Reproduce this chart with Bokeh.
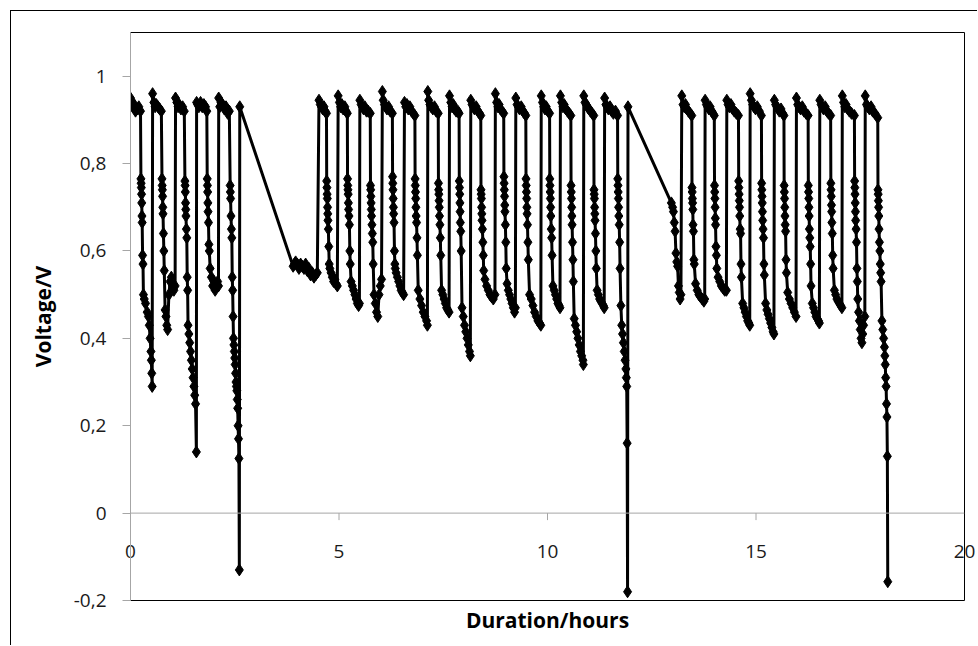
from bokeh.plotting import figure
from bokeh.models import Range1d, LinearAxis, FixedTicker, CustomJSTickFormatter, Span, ColumnDataSource
from bokeh.embed import file_html
from bokeh.resources import INLINE

# ---------------- data (hours, volts) ----------------
# first block of cycles
sec1_t = [
    0.00, 0.03, 0.06, 0.09, 0.12, 0.16, 0.20, 0.24, 0.25, 0.255, 0.26, 0.265, 0.27, 0.275, 0.28, 0.29, 0.30, 0.31,
    0.33, 0.36, 0.40, 0.43, 0.45, 0.47, 0.49, 0.50, 0.51, 0.52,
    0.53, 0.56, 0.59, 0.62, 0.66, 0.70, 0.74, 0.755, 0.76, 0.765, 0.77, 0.775, 0.78, 0.79, 0.80, 0.81,
    0.83, 0.85, 0.87, 0.89, 0.92, 0.95, 0.98, 1.01, 1.04, 1.07,
    1.08, 1.11, 1.14, 1.17, 1.21, 1.25, 1.29, 1.305, 1.31, 1.315, 1.32, 1.325, 1.33, 1.34, 1.35, 1.36,
    1.37, 1.38, 1.40, 1.42, 1.44, 1.46, 1.48, 1.50, 1.52, 1.54, 1.56, 1.58,
    1.585, 1.61, 1.64, 1.68, 1.72, 1.76, 1.80, 1.83, 1.84, 1.845, 1.85, 1.855, 1.86, 1.87, 1.88, 1.89,
    1.91, 1.94, 1.97, 2.00, 2.03, 2.06, 2.09, 2.11,
    2.115, 2.14, 2.17, 2.21, 2.25, 2.29, 2.33, 2.37, 2.39, 2.395, 2.40, 2.41, 2.42, 2.43, 2.44,
    2.45, 2.46, 2.47, 2.48, 2.49, 2.50, 2.51, 2.52, 2.53, 2.54, 2.55, 2.56, 2.57, 2.58, 2.59, 2.60, 2.61,
    2.62,
]
sec1_v = [
    0.95, 0.94, 0.93, 0.935, 0.92, 0.925, 0.93, 0.92, 0.765, 0.755, 0.745, 0.73, 0.71, 0.68, 0.665, 0.59, 0.57, 0.50,
    0.49, 0.48, 0.46, 0.45, 0.43, 0.40, 0.37, 0.35, 0.32, 0.29,
    0.96, 0.94, 0.93, 0.935, 0.93, 0.925, 0.92, 0.765, 0.75, 0.74, 0.725, 0.70, 0.685, 0.64, 0.60, 0.555,
    0.465, 0.45, 0.43, 0.42, 0.50, 0.53, 0.54, 0.52, 0.51, 0.52,
    0.95, 0.94, 0.93, 0.935, 0.925, 0.93, 0.92, 0.76, 0.75, 0.735, 0.71, 0.695, 0.68, 0.65, 0.63, 0.54,
    0.51, 0.43, 0.41, 0.39, 0.37, 0.35, 0.33, 0.31, 0.29, 0.27, 0.25, 0.14,
    0.94, 0.935, 0.93, 0.94, 0.93, 0.935, 0.93, 0.92, 0.765, 0.75, 0.735, 0.71, 0.69, 0.665, 0.615, 0.60,
    0.56, 0.54, 0.52, 0.53, 0.51, 0.52, 0.53, 0.52,
    0.95, 0.93, 0.94, 0.935, 0.925, 0.93, 0.915, 0.92, 0.75, 0.735, 0.72, 0.68, 0.65, 0.63, 0.54,
    0.51, 0.45, 0.40, 0.385, 0.37, 0.355, 0.34, 0.32, 0.30, 0.29, 0.28, 0.26, 0.24, 0.20, 0.17, 0.125, -0.13,
    0.93,
]
# rest period after first block
rest1_t = [3.90, 3.93, 3.96, 4.00, 4.04, 4.08, 4.12, 4.16, 4.20, 4.24, 4.28, 4.32, 4.36, 4.40, 4.44, 4.48]
rest1_v = [0.565, 0.57, 0.575, 0.57, 0.56, 0.57, 0.565, 0.56, 0.57, 0.555, 0.56, 0.545, 0.55, 0.54, 0.545, 0.55]

# second block of cycles
sec2_t = [
    4.52, 4.55, 4.58, 4.61, 4.64, 4.67, 4.70, 4.705, 4.71, 4.715, 4.72, 4.725, 4.73, 4.735, 4.745, 4.755, 4.765,
    4.78, 4.81, 4.84, 4.87, 4.90, 4.93, 4.96,
    4.98, 5.01, 5.04, 5.07, 5.10, 5.14, 5.17, 5.20, 5.205, 5.21, 5.215, 5.22, 5.225, 5.23, 5.24, 5.25, 5.26, 5.27,
    5.29, 5.32, 5.35, 5.38, 5.41, 5.44, 5.47, 5.49,
    5.50, 5.53, 5.56, 5.59, 5.62, 5.66, 5.70, 5.75, 5.755, 5.76, 5.765, 5.77, 5.775, 5.78, 5.79, 5.80, 5.81, 5.82,
    5.84, 5.87, 5.90, 5.93, 5.96, 5.99, 6.02,
    6.04, 6.06, 6.09, 6.12, 6.15, 6.19, 6.23, 6.28, 6.285, 6.29, 6.295, 6.30, 6.305, 6.31, 6.32, 6.33, 6.34, 6.35,
    6.37, 6.40, 6.43, 6.46, 6.49, 6.52, 6.55,
    6.57, 6.60, 6.63, 6.66, 6.70, 6.74, 6.78, 6.82, 6.825, 6.83, 6.835, 6.84, 6.845, 6.85, 6.86, 6.87, 6.88,
    6.90, 6.94, 6.98, 7.02, 7.06, 7.10, 7.12,
    7.13, 7.15, 7.18, 7.21, 7.25, 7.29, 7.33, 7.38, 7.385, 7.39, 7.395, 7.40, 7.405, 7.41, 7.42, 7.43, 7.44,
    7.46, 7.49, 7.52, 7.55, 7.58, 7.61, 7.64,
    7.65, 7.68, 7.71, 7.74, 7.77, 7.81, 7.85, 7.88, 7.885, 7.89, 7.895, 7.90, 7.905, 7.91, 7.92, 7.93,
    7.95, 7.98, 8.01, 8.04, 8.07, 8.10, 8.13, 8.15,
    8.16, 8.19, 8.22, 8.25, 8.29, 8.33, 8.37, 8.40, 8.405, 8.41, 8.415, 8.42, 8.425, 8.43, 8.44, 8.45, 8.46, 8.47,
    8.50, 8.54, 8.58, 8.62, 8.66, 8.70, 8.74,
    8.75, 8.78, 8.81, 8.84, 8.87, 8.91, 8.95, 8.955, 8.96, 8.965, 8.97, 8.975, 8.98, 8.99, 9.00, 9.01,
    9.03, 9.06, 9.09, 9.12, 9.15, 9.18, 9.21, 9.23,
    9.24, 9.27, 9.30, 9.33, 9.37, 9.41, 9.45, 9.48, 9.485, 9.49, 9.495, 9.50, 9.505, 9.51, 9.52, 9.53, 9.54,
    9.57, 9.61, 9.65, 9.69, 9.73, 9.77, 9.81, 9.84,
    9.85, 9.88, 9.91, 9.94, 9.97, 10.01, 10.05, 10.055, 10.06, 10.065, 10.07, 10.075, 10.08, 10.09, 10.10, 10.11,
    10.13, 10.16, 10.19, 10.22, 10.25, 10.28, 10.30,
    10.31, 10.34, 10.37, 10.40, 10.44, 10.48, 10.52, 10.56, 10.565, 10.57, 10.575, 10.58, 10.585, 10.59, 10.60, 10.61, 10.62,
    10.64, 10.67, 10.70, 10.73, 10.76, 10.79, 10.82, 10.85, 10.86,
    10.87, 10.90, 10.93, 10.96, 10.99, 11.03, 11.07, 11.11, 11.115, 11.12, 11.125, 11.13, 11.135, 11.14, 11.15, 11.16, 11.17,
    11.19, 11.22, 11.25, 11.28, 11.31, 11.34, 11.36,
    11.37, 11.40, 11.43, 11.46, 11.50, 11.54, 11.58, 11.63, 11.68, 11.685, 11.69, 11.695, 11.70, 11.705, 11.71, 11.72, 11.73, 11.74,
    11.76, 11.78, 11.80, 11.82, 11.84, 11.86, 11.88, 11.89, 11.90, 11.91, 11.92,
    11.93,
]
sec2_v = [
    0.945, 0.935, 0.93, 0.925, 0.93, 0.92, 0.915, 0.76, 0.745, 0.73, 0.72, 0.70, 0.685, 0.67, 0.65, 0.61, 0.57,
    0.56, 0.55, 0.54, 0.53, 0.535, 0.525, 0.52,
    0.955, 0.94, 0.93, 0.935, 0.925, 0.93, 0.92, 0.915, 0.765, 0.75, 0.74, 0.73, 0.71, 0.695, 0.68, 0.66, 0.60, 0.57,
    0.53, 0.52, 0.51, 0.50, 0.49, 0.48, 0.475, 0.48,
    0.945, 0.935, 0.93, 0.925, 0.93, 0.92, 0.92, 0.915, 0.75, 0.74, 0.725, 0.71, 0.695, 0.68, 0.66, 0.64, 0.62, 0.57,
    0.50, 0.48, 0.46, 0.45, 0.50, 0.52, 0.535,
    0.965, 0.945, 0.935, 0.93, 0.925, 0.93, 0.92, 0.915, 0.77, 0.755, 0.74, 0.72, 0.70, 0.685, 0.665, 0.60, 0.57, 0.56,
    0.55, 0.54, 0.53, 0.52, 0.51, 0.505, 0.50,
    0.94, 0.93, 0.935, 0.925, 0.93, 0.92, 0.915, 0.91, 0.765, 0.75, 0.735, 0.72, 0.70, 0.68, 0.665, 0.63, 0.59,
    0.51, 0.49, 0.475, 0.46, 0.45, 0.44, 0.43,
    0.965, 0.945, 0.935, 0.93, 0.925, 0.93, 0.92, 0.915, 0.755, 0.74, 0.73, 0.715, 0.70, 0.68, 0.66, 0.63, 0.59,
    0.51, 0.50, 0.49, 0.48, 0.47, 0.465, 0.46,
    0.955, 0.94, 0.93, 0.935, 0.925, 0.92, 0.92, 0.915, 0.76, 0.745, 0.73, 0.71, 0.69, 0.665, 0.645, 0.60,
    0.47, 0.45, 0.43, 0.415, 0.40, 0.385, 0.37, 0.36,
    0.945, 0.935, 0.93, 0.925, 0.93, 0.92, 0.915, 0.91, 0.74, 0.73, 0.72, 0.70, 0.685, 0.67, 0.65, 0.62, 0.59, 0.555,
    0.535, 0.52, 0.51, 0.50, 0.495, 0.49, 0.50,
    0.96, 0.94, 0.93, 0.935, 0.925, 0.92, 0.915, 0.77, 0.755, 0.74, 0.725, 0.705, 0.69, 0.66, 0.62, 0.56,
    0.525, 0.51, 0.50, 0.49, 0.48, 0.47, 0.46, 0.47,
    0.95, 0.935, 0.93, 0.925, 0.93, 0.92, 0.915, 0.91, 0.765, 0.75, 0.735, 0.72, 0.70, 0.685, 0.66, 0.62, 0.58,
    0.50, 0.49, 0.475, 0.46, 0.45, 0.44, 0.435, 0.43,
    0.955, 0.94, 0.93, 0.925, 0.93, 0.92, 0.915, 0.765, 0.75, 0.735, 0.72, 0.70, 0.68, 0.65, 0.63, 0.59,
    0.52, 0.51, 0.50, 0.49, 0.48, 0.475, 0.47,
    0.955, 0.94, 0.93, 0.935, 0.925, 0.92, 0.915, 0.91, 0.75, 0.735, 0.72, 0.70, 0.68, 0.66, 0.62, 0.58, 0.53,
    0.445, 0.43, 0.415, 0.40, 0.385, 0.37, 0.36, 0.35, 0.34,
    0.955, 0.94, 0.935, 0.93, 0.925, 0.92, 0.915, 0.91, 0.74, 0.73, 0.72, 0.70, 0.685, 0.67, 0.64, 0.60, 0.56,
    0.51, 0.50, 0.49, 0.485, 0.48, 0.475, 0.47,
    0.95, 0.935, 0.93, 0.925, 0.93, 0.92, 0.915, 0.92, 0.91, 0.765, 0.75, 0.735, 0.72, 0.70, 0.68, 0.66, 0.62, 0.56,
    0.475, 0.43, 0.41, 0.39, 0.37, 0.35, 0.33, 0.31, 0.29, 0.16, -0.18,
    0.93,
]
# rest period after second block
rest2_t = [12.97, 13.00, 13.02, 13.04, 13.06, 13.08, 13.10, 13.12, 13.14, 13.16, 13.18, 13.20]
rest2_v = [0.71, 0.70, 0.69, 0.665, 0.645, 0.595, 0.575, 0.565, 0.52, 0.505, 0.49, 0.50]

# third block of cycles
sec3_t = [
    13.22, 13.25, 13.28, 13.31, 13.34, 13.38, 13.42, 13.46, 13.465, 13.47, 13.475, 13.48, 13.485, 13.49, 13.50, 13.51, 13.52,
    13.55, 13.59, 13.63, 13.67, 13.71, 13.75, 13.77,
    13.78, 13.81, 13.84, 13.87, 13.90, 13.94, 13.97, 14.00, 14.005, 14.01, 14.015, 14.02, 14.025, 14.03, 14.04, 14.05, 14.06,
    14.09, 14.13, 14.17, 14.21, 14.25, 14.29,
    14.30, 14.33, 14.36, 14.40, 14.44, 14.48, 14.53, 14.58, 14.585, 14.59, 14.595, 14.60, 14.605, 14.61, 14.62, 14.63, 14.64, 14.65,
    14.68, 14.71, 14.74, 14.77, 14.80, 14.83, 14.85,
    14.86, 14.89, 14.92, 14.95, 14.99, 15.03, 15.08, 15.13, 15.135, 15.14, 15.145, 15.15, 15.155, 15.16, 15.17, 15.18, 15.19, 15.20,
    15.23, 15.26, 15.29, 15.32, 15.35, 15.38, 15.41, 15.43,
    15.44, 15.47, 15.50, 15.53, 15.56, 15.60, 15.64, 15.67, 15.675, 15.68, 15.685, 15.69, 15.695, 15.70, 15.71, 15.72, 15.73,
    15.76, 15.80, 15.84, 15.88, 15.92, 15.96,
    15.97, 16.00, 16.03, 16.07, 16.11, 16.15, 16.20, 16.25, 16.255, 16.26, 16.265, 16.27, 16.275, 16.28, 16.29, 16.30, 16.31, 16.32,
    16.35, 16.38, 16.41, 16.44, 16.47, 16.50, 16.52,
    16.53, 16.56, 16.59, 16.62, 16.66, 16.70, 16.74, 16.79, 16.795, 16.80, 16.805, 16.81, 16.815, 16.82, 16.83, 16.84, 16.85,
    16.88, 16.91, 16.94, 16.97, 17.00, 17.03, 17.06,
    17.07, 17.10, 17.13, 17.16, 17.20, 17.24, 17.29, 17.36, 17.365, 17.37, 17.375, 17.38, 17.385, 17.39, 17.40, 17.41, 17.42, 17.43, 17.44,
    17.46, 17.48, 17.50, 17.52, 17.54, 17.56, 17.58, 17.61,
    17.62, 17.65, 17.68, 17.72, 17.76, 17.80, 17.85, 17.92, 17.925, 17.93, 17.935, 17.94, 17.945, 17.95, 17.96, 17.97, 17.98, 17.99, 18.00,
    18.02, 18.04, 18.06, 18.08, 18.09, 18.10, 18.11, 18.12, 18.13, 18.14, 18.15, 18.16,
]
sec3_v = [
    0.955, 0.935, 0.93, 0.935, 0.925, 0.92, 0.915, 0.91, 0.745, 0.735, 0.72, 0.71, 0.695, 0.66, 0.645, 0.58, 0.57,
    0.525, 0.51, 0.50, 0.495, 0.49, 0.485, 0.49,
    0.945, 0.935, 0.93, 0.925, 0.93, 0.92, 0.915, 0.91, 0.75, 0.735, 0.72, 0.70, 0.675, 0.66, 0.61, 0.59, 0.56,
    0.54, 0.53, 0.52, 0.515, 0.51, 0.51,
    0.945, 0.935, 0.93, 0.935, 0.925, 0.92, 0.915, 0.91, 0.76, 0.745, 0.73, 0.715, 0.70, 0.68, 0.65, 0.64, 0.57, 0.54,
    0.48, 0.47, 0.46, 0.45, 0.44, 0.435, 0.43,
    0.96, 0.945, 0.935, 0.93, 0.925, 0.93, 0.92, 0.91, 0.755, 0.74, 0.725, 0.71, 0.69, 0.67, 0.65, 0.63, 0.57, 0.545,
    0.48, 0.465, 0.455, 0.445, 0.435, 0.425, 0.415, 0.41,
    0.945, 0.935, 0.93, 0.925, 0.92, 0.925, 0.915, 0.91, 0.75, 0.735, 0.72, 0.70, 0.68, 0.66, 0.645, 0.58, 0.55,
    0.505, 0.49, 0.48, 0.47, 0.46, 0.45,
    0.95, 0.935, 0.93, 0.925, 0.93, 0.92, 0.915, 0.91, 0.75, 0.735, 0.72, 0.70, 0.68, 0.65, 0.63, 0.61, 0.57, 0.52,
    0.48, 0.47, 0.46, 0.45, 0.445, 0.44, 0.435,
    0.945, 0.935, 0.93, 0.925, 0.93, 0.92, 0.915, 0.91, 0.755, 0.74, 0.725, 0.705, 0.69, 0.665, 0.64, 0.59, 0.56,
    0.51, 0.50, 0.49, 0.485, 0.48, 0.475, 0.47,
    0.955, 0.94, 0.93, 0.935, 0.925, 0.92, 0.915, 0.91, 0.76, 0.745, 0.73, 0.71, 0.69, 0.67, 0.65, 0.62, 0.56, 0.53, 0.49,
    0.46, 0.44, 0.42, 0.40, 0.39, 0.41, 0.43, 0.45,
    0.955, 0.935, 0.93, 0.925, 0.93, 0.92, 0.915, 0.905, 0.74, 0.73, 0.715, 0.70, 0.68, 0.65, 0.62, 0.60, 0.57, 0.55, 0.53,
    0.44, 0.42, 0.40, 0.38, 0.36, 0.34, 0.31, 0.29, 0.25, 0.22, 0.13, -0.157,
]

x_ticks = [0, 5, 10, 15, 20]
y_ticks = [-0.2, 0, 0.2, 0.4, 0.6, 0.8, 1.0]
x_title = "Duration/hours"
y_title = "Voltage/V"

for a, b, name in [(sec1_t, sec1_v, "sec1"), (rest1_t, rest1_v, "rest1"), (sec2_t, sec2_v, "sec2"),
                   (rest2_t, rest2_v, "rest2"), (sec3_t, sec3_v, "sec3")]:
    if len(a) != len(b):
        raise ValueError(f"{name}: {len(a)} times vs {len(b)} volts")

t_all = sec1_t + rest1_t + sec2_t + rest2_t + sec3_t
v_all = sec1_v + rest1_v + sec2_v + rest2_v + sec3_v
src = ColumnDataSource(dict(t=t_all, v=v_all))

# ---------------- figure ----------------
FONT = "Open Sans"
GRAY = "#a6a6a6"
W, H = 967, 635
MB_L, MB_R, MB_T, MB_B = 119, 14, 21, 46
p = figure(width=W, height=H, x_range=Range1d(0, 20), y_range=Range1d(-0.2, 1.1),
           output_backend="svg", toolbar_location=None,
           min_border_left=MB_L, min_border_right=MB_R, min_border_top=MB_T, min_border_bottom=MB_B,
           background_fill_color="white", border_fill_color="white",
           styles={"margin-left": "10px", "margin-top": "10px",
                   "border-top": "1px solid #000000", "border-left": "1px solid #000000"})
p.xgrid.grid_line_color = None
p.ygrid.grid_line_color = None
p.outline_line_color = None

# bottom axis: frame border, tick labels lifted up to the V = 0 line, and title
xa = p.xaxis[0]
xa.ticker = FixedTicker(ticks=x_ticks)
xa.major_tick_out = 0
xa.major_tick_in = 0
xa.major_tick_line_color = None
xa.minor_tick_line_color = None
xa.major_label_text_font = FONT
xa.major_label_text_font_size = "19px"
xa.major_label_text_color = "#1a1a1a"
xa.major_label_standoff = -56
xa.axis_line_color = "black"
xa.axis_line_width = 1
xa.axis_label = x_title
xa.axis_label_text_font = FONT
xa.axis_label_text_font_style = "bold"
xa.axis_label_text_font_size = "21px"
xa.axis_label_text_color = "black"
xa.axis_label_standoff = 45

# left axis
ya = p.yaxis[0]
ya.ticker = FixedTicker(ticks=y_ticks)
ya.formatter = CustomJSTickFormatter(code="""
    if (Math.abs(tick) < 1e-9) return "0";
    const s = Math.abs(tick - Math.round(tick)) < 1e-9 ? tick.toFixed(0) : tick.toFixed(1);
    return s.replace('.', ',');
""")
ya.axis_line_color = GRAY
ya.major_tick_line_color = GRAY
ya.major_tick_out = 8
ya.major_tick_in = 0
ya.minor_tick_line_color = None
ya.major_label_text_font = FONT
ya.major_label_text_font_size = "19px"
ya.major_label_text_color = "#1a1a1a"
ya.major_label_standoff = 16
ya.axis_label = y_title
ya.axis_label_text_font = FONT
ya.axis_label_text_font_style = "bold"
ya.axis_label_text_font_size = "21px"
ya.axis_label_text_color = "black"
ya.axis_label_standoff = 14

# top and right frame borders
for loc in ("above", "right"):
    ax = LinearAxis(ticker=FixedTicker(ticks=[]), major_label_text_font_size="0px",
                    major_tick_line_color=None, minor_tick_line_color=None,
                    axis_line_color="black", axis_line_width=1)
    p.add_layout(ax, loc)

# horizontal axis line at V = 0 with tick marks
p.add_layout(Span(location=0, dimension="width", line_color=GRAY, line_width=1))
px_per_v = (H - MB_T - MB_B) / (1.1 - (-0.2))
tick_len = 7 / px_per_v
inner = [t for t in x_ticks if 0 < t < 20]
p.segment(x0=inner, y0=[0] * len(inner), x1=inner, y1=[-tick_len] * len(inner),
          line_color=GRAY, line_width=1)

# data series
p.line("t", "v", source=src, line_color="black", line_width=3, line_join="round")
p.scatter("t", "v", source=src, marker="diamond", size=12, fill_color="black", line_color="black")

open("out.html", "w").write(file_html(p, INLINE))
